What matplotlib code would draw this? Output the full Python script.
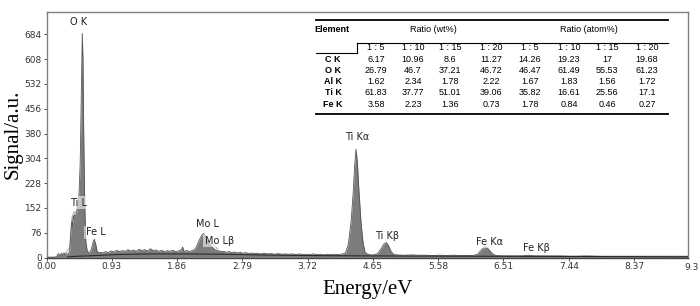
import matplotlib
matplotlib.use("Agg")
import matplotlib.pyplot as plt
from matplotlib.lines import Line2D
from matplotlib.patches import Rectangle

# ---------------- data ----------------
energy = [0.00, 0.10, 0.15, 0.17, 0.19, 0.21, 0.23, 0.25, 0.27, 0.29, 0.31, 0.33,
          0.345, 0.36, 0.37, 0.38, 0.39, 0.40, 0.42, 0.44, 0.46, 0.48, 0.50, 0.51,
          0.52, 0.53, 0.545, 0.56, 0.58, 0.60, 0.62, 0.64, 0.66, 0.68, 0.70, 0.72,
          0.74, 0.76, 0.80, 0.84, 0.88, 0.92, 0.96, 1.00, 1.04, 1.08, 1.12, 1.16,
          1.20, 1.24, 1.28, 1.32, 1.36, 1.40, 1.44, 1.48, 1.52, 1.56, 1.60, 1.64,
          1.68, 1.72, 1.76, 1.80, 1.84, 1.88, 1.92, 1.94, 1.96, 2.00, 2.04, 2.08,
          2.12, 2.15, 2.18, 2.21, 2.24, 2.26, 2.28, 2.31, 2.34, 2.37, 2.40, 2.44,
          2.48, 2.52, 2.56, 2.60, 2.64, 2.68, 2.72, 2.76, 2.80, 2.84, 2.88, 2.92,
          2.96, 3.00, 3.05, 3.10, 3.15, 3.20, 3.25, 3.30, 3.35, 3.40, 3.45, 3.50,
          3.55, 3.60, 3.65, 3.70, 3.75, 3.80, 3.85, 3.90, 3.95, 4.00, 4.05, 4.10,
          4.15, 4.20, 4.26, 4.30, 4.34, 4.37, 4.39, 4.41, 4.43, 4.45, 4.48, 4.51,
          4.54, 4.58, 4.62, 4.66, 4.72, 4.77, 4.81, 4.84, 4.87, 4.91, 4.95, 5.00,
          5.10, 5.20, 5.30, 5.40, 5.50, 5.60, 5.70, 5.80, 5.90, 6.00, 6.08, 6.14,
          6.19, 6.23, 6.26, 6.30, 6.35, 6.40, 6.50, 6.60, 6.70, 6.79, 6.83, 6.86,
          6.90, 6.95, 7.10, 7.30, 7.50, 7.70, 7.90, 8.10, 8.30, 8.50, 8.70, 8.90,
          9.14]
counts = [0, 0, 2, 10, 3, 12, 5, 14, 8, 12, 10, 20,
          70, 110, 95, 128, 115, 132, 125, 150, 175, 290, 560, 687,
          600, 380, 160, 50, 20, 15, 18, 25, 45, 56, 42, 20,
          14, 16, 14, 18, 15, 20, 17, 22, 18, 21, 19, 24,
          20, 23, 19, 25, 21, 24, 20, 27, 21, 23, 19, 22,
          18, 21, 19, 22, 18, 20, 24, 32, 19, 21, 18, 22,
          26, 40, 55, 68, 74, 66, 58, 45, 38, 30, 24, 20,
          18, 19, 16, 18, 15, 17, 14, 16, 13, 15, 12, 14,
          12, 13, 11, 13, 11, 12, 10, 12, 10, 11, 10, 11,
          9, 11, 9, 10, 9, 11, 9, 10, 8, 10, 9, 10,
          9, 10, 14, 40, 110, 200, 280, 332, 290, 210, 110, 45,
          15, 10, 8, 8, 12, 28, 42, 46, 38, 18, 9, 8,
          7, 8, 7, 7, 6, 7, 6, 7, 6, 6, 6, 10,
          22, 31, 33, 25, 12, 6, 5, 5, 5, 5, 6, 7,
          6, 5, 5, 5, 4, 5, 4, 4, 4, 4, 4, 4,
          4]

# light grey overlay traces (second spectrum outline), two visible segments
overlay_low_e = [0.14, 0.17, 0.20, 0.22, 0.25, 0.28, 0.33, 0.36, 0.39, 0.41, 0.43, 0.45, 0.47]
overlay_low_c = [2, 14, 3, 15, 6, 16, 30, 120, 140, 135, 150, 165, 190]
overlay_mo_e = [2.20, 2.26, 2.32, 2.38, 2.44, 2.50]
overlay_mo_c = [40, 60, 48, 40, 25, 12]

# smooth background (continuum fit)
bg_e = [0.30, 0.45, 0.60, 0.80, 1.00, 1.50, 2.00, 2.50, 3.00, 3.70, 4.50, 6.00, 9.14]
bg_c = [2, 4, 5, 7, 9, 11, 11, 10, 8, 6, 5, 4, 2]

peak_labels = ["O K", "Ti L", "Fe L", "Mo L", "Mo Lβ", "Ti Kα", "Ti Kβ", "Fe Kα", "Fe Kβ"]
label_x = [0.46, 0.46, 0.70, 2.30, 2.46, 4.42, 4.85, 6.31, 6.98]
label_y = [722, 168, 78, 103, 51, 369, 67, 49, 30]

xticks = [0.00, 0.93, 1.86, 2.79, 3.72, 4.65, 5.58, 6.51, 7.44, 8.37]
xticklabels = ["0.00", "0.93", "1.86", "2.79", "3.72", "4.65", "5.58", "6.51", "7.44", "8.37"]
yticks = [0, 76, 152, 228, 304, 380, 456, 532, 608, 684]

# table data
elements = ["C K", "O K", "Al K", "Ti K", "Fe K"]
ratios = ["1 : 5", "1 : 10", "1 : 15", "1 : 20"]
wt_pct = [["6.17", "10.96", "8.6", "11.27"],
          ["26.79", "46.7", "37.21", "46.72"],
          ["1.62", "2.34", "1.78", "2.22"],
          ["61.83", "37.77", "51.01", "39.06"],
          ["3.58", "2.23", "1.36", "0.73"]]
atom_pct = [["14.26", "19.23", "17", "19.68"],
            ["46.47", "61.49", "55.53", "61.23"],
            ["1.67", "1.83", "1.56", "1.72"],
            ["35.82", "16.61", "25.56", "17.1"],
            ["1.78", "0.84", "0.46", "0.27"]]

# ---------------- figure ----------------
W, H = 700, 306
fig = plt.figure(figsize=(7.0, 3.06), dpi=100)
L, R, B, T = 46.5, 688, 257.5, 11.5
ax = fig.add_axes([L / W, 1 - B / H, (R - L) / W, (B - T) / H])

ax.axhspan(0, 5, color="#c8c8c8", lw=0, zorder=1)
ax.plot(overlay_low_e, overlay_low_c, color="#b4b4b4", lw=0.8, zorder=2)
ax.plot(overlay_mo_e, overlay_mo_c, color="#b4b4b4", lw=0.8, zorder=2)
ax.fill_between(energy, 0, counts, color="#7c7c7c", lw=0, zorder=3)
ax.plot(energy, counts, color="#555555", lw=0.6, zorder=4)
ax.plot(bg_e, bg_c, color="#2a2a2a", lw=0.8, zorder=5)

for t, x, y in zip(peak_labels, label_x, label_y):
    ax.text(x, y, t, fontsize=7, color="#222222", ha="center", va="center", zorder=6,
            bbox=dict(boxstyle="square,pad=0.15", fc="white", ec="none", alpha=0.55))

ax.set_xlim(0, 9.14)
ax.set_ylim(0, 754)
ax.set_xticks(xticks)
ax.set_xticklabels(xticklabels)
ax.set_yticks(yticks)
ax.tick_params(labelsize=6.5, colors="#333333", length=2, width=0.6, pad=1.5)
for s in ax.spines.values():
    s.set_color("#808080")
    s.set_linewidth(1.0)
ax.spines["bottom"].set_color("#444444")

fig.text(684 / W, 1 - 267 / H, "9.3", fontsize=6.5, color="#333333", ha="left", va="center")

ax.set_xlabel("Energy/eV", fontsize=15, family="Liberation Serif", labelpad=6)
ax.set_ylabel("Signal/a.u.", fontsize=15, family="Liberation Serif")
ax.yaxis.set_label_coords(-0.037, 0.5)

# ---------------- table ----------------
def fx(px):
    return px / W

def fy(py):
    return 1 - py / H

fig.patches.append(Rectangle((fx(312), fy(118)), fx(672) - fx(312), fy(15) - fy(118),
                             transform=fig.transFigure, fc="white", ec="none", zorder=10))

def hline(x0, x1, y, lw):
    fig.add_artist(Line2D([fx(x0), fx(x1)], [fy(y), fy(y)], transform=fig.transFigure,
                          color="black", lw=lw, zorder=11))

def vline(x, y0, y1, lw):
    fig.add_artist(Line2D([fx(x), fx(x)], [fy(y0), fy(y1)], transform=fig.transFigure,
                          color="black", lw=lw, zorder=11))

hline(316, 668, 19.5, 1.3)
hline(357, 668, 42.5, 0.8)
vline(357, 42.5, 53, 0.8)
hline(316, 357, 53, 0.8)
hline(316, 668, 114, 1.3)

tfont = dict(family="Liberation Sans", fontsize=6.5, color="black", zorder=12,
             ha="center", va="center")
col_x = [376, 413, 450, 491, 530, 569, 607, 647]
fig.text(fx(332), fy(30), "Element", fontweight="bold", **tfont)
fig.text(fx(433), fy(30), "Ratio (wt%)", **tfont)
fig.text(fx(589), fy(30), "Ratio (atom%)", **tfont)
for i, x in enumerate(col_x):
    fig.text(fx(x), fy(47.5), ratios[i % 4], **tfont)
row_y = [59.3, 70.5, 81.7, 92.9, 104.1]
for r, (el, y) in enumerate(zip(elements, row_y)):
    fig.text(fx(333), fy(y), el, fontweight="bold", **tfont)
    vals = wt_pct[r] + atom_pct[r]
    for x, v in zip(col_x, vals):
        fig.text(fx(x), fy(y), v, **tfont)

fig.savefig("out.png", dpi=100, facecolor="white")
